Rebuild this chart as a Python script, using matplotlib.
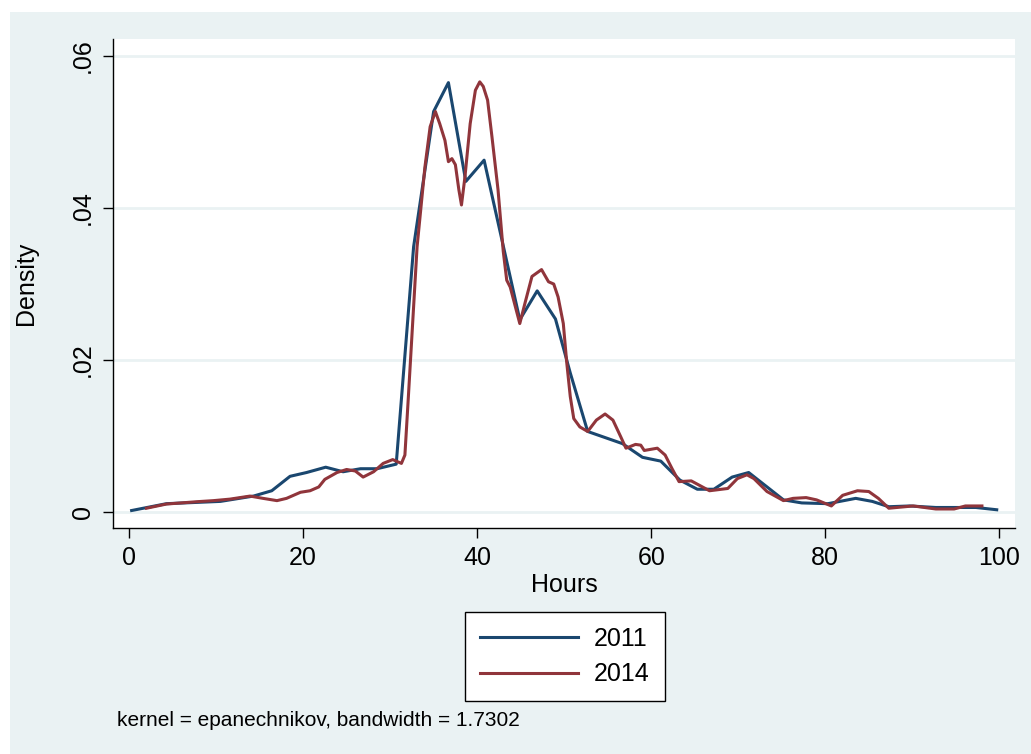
import matplotlib
matplotlib.use("Agg")
import matplotlib.pyplot as plt
from matplotlib.patches import Rectangle

# ---- data ----
hours_2011 = [0.3, 4.3, 10.5, 14.3, 16.4, 18.5, 20.4, 22.6, 24.6, 26.6, 28.5, 30.7,
              32.7, 35.0, 36.7, 38.7, 40.8, 44.9, 46.9, 49.0, 50.7, 52.7, 56.7,
              59.0, 61.1, 63.3, 65.3, 67.2, 69.3, 71.2, 75.2, 77.3, 80.3, 83.5,
              85.4, 87.3, 89.7, 92.7, 97.3, 99.7]
dens_2011 = [0.0002, 0.0011, 0.0014, 0.0021, 0.0028, 0.0047, 0.0052, 0.0059, 0.0053,
             0.0057, 0.0057, 0.0063, 0.0349, 0.0527, 0.0565, 0.0435, 0.0463, 0.0253,
             0.0291, 0.0254, 0.0183, 0.0106, 0.0090, 0.0072, 0.0067, 0.0042, 0.0030,
             0.0030, 0.0046, 0.0052, 0.0016, 0.0012, 0.0011, 0.0018, 0.0014, 0.0007,
             0.0008, 0.0006, 0.0006, 0.0003]

hours_2014 = [2.0, 4.3, 7.8, 9.7, 11.6, 13.9, 15.4, 17.0, 18.1, 19.7, 20.8, 21.8, 22.5,
              23.9, 25.0, 26.0, 26.9, 28.1, 29.2, 30.3, 31.3, 31.7, 32.1, 33.1, 34.0,
              34.6, 35.2, 35.7, 36.3, 36.7, 37.1, 37.5, 37.9, 38.2, 38.6, 39.2, 39.8,
              40.3, 40.7, 41.2, 41.7, 42.4, 43.0, 43.4, 43.8, 44.9, 45.5, 46.3, 47.4,
              48.2, 48.8, 49.3, 49.9, 50.3, 50.7, 51.1, 51.8, 52.7, 53.7, 54.7, 55.6,
              56.5, 57.1, 58.2, 58.8, 59.2, 60.7, 61.6, 62.4, 63.2, 64.6, 66.7, 68.8,
              69.9, 71.0, 71.8, 73.3, 75.2, 76.3, 77.8, 79.0, 80.7, 82.0, 83.7, 85.0,
              86.1, 87.3, 90.1, 92.7, 94.8, 96.1, 98.0]
dens_2014 = [0.0005, 0.00105, 0.00136, 0.0015, 0.0017, 0.0021, 0.0018, 0.0015, 0.0018,
             0.0026, 0.0028, 0.0033, 0.0043, 0.0052, 0.0056, 0.0054, 0.0046, 0.0053,
             0.0064, 0.0069, 0.0064, 0.0075, 0.0152, 0.0349, 0.0454, 0.0507, 0.0527,
             0.0511, 0.0489, 0.0461, 0.0465, 0.0457, 0.0424, 0.0404, 0.0441, 0.0511,
             0.0555, 0.0566, 0.0560, 0.0542, 0.0494, 0.0424, 0.0343, 0.0305, 0.0296,
             0.0248, 0.0275, 0.0310, 0.0319, 0.0303, 0.0300, 0.0283, 0.0248, 0.0196,
             0.0152, 0.0123, 0.0112, 0.0106, 0.0121, 0.0129, 0.0121, 0.0099, 0.0084,
             0.0089, 0.0088, 0.0081, 0.0084, 0.0075, 0.0057, 0.0040, 0.0041, 0.0028,
             0.0031, 0.0044, 0.0049, 0.0044, 0.0027, 0.0015, 0.0018, 0.0019, 0.0016,
             0.0008, 0.0022, 0.0028, 0.0027, 0.0018, 0.0005, 0.0008, 0.0004, 0.0004,
             0.0008, 0.0008]

x_ticks = [0, 20, 40, 60, 80, 100]
y_ticks = [0, 0.02, 0.04, 0.06]
y_tick_labels = ["0", ".02", ".04", ".06"]
series_labels = ["2011", "2014"]
x_label = "Hours"
y_label = "Density"
note_text = "kernel = epanechnikov, bandwidth = 1.7302"

# ---- style ----
plt.rcParams["font.family"] = ["Liberation Sans", "DejaVu Sans"]
BG = "#EAF2F3"
NAVY = "#1A476F"
MAROON = "#90353B"

W, H = 1031, 754
fig = plt.figure(figsize=(W / 100, H / 100), dpi=100, facecolor="white")

# outer graph region background
fig.patches.append(Rectangle((10 / W, 0), 1 - 10 / W, 1 - 12 / H,
                             transform=fig.transFigure, facecolor=BG,
                             edgecolor="none", zorder=-10))

ax = fig.add_axes([113 / W, 1 - 528 / H, (1015 - 113) / W, (528 - 39) / H])
ax.set_zorder(1)
ax.set_facecolor("white")

ax.plot(hours_2011, dens_2011, color=NAVY, lw=2.2, label=series_labels[0], zorder=3)
ax.plot(hours_2014, dens_2014, color=MAROON, lw=2.2, label=series_labels[1], zorder=3)

ax.set_xlim(-1.84, 101.8)
ax.set_ylim(-0.0021, 0.06224)

ax.set_xticks(x_ticks)
ax.set_xticklabels([str(t) for t in x_ticks])
ax.set_yticks(y_ticks)
ax.set_yticklabels(y_tick_labels, rotation=90, va="center")

for v in y_ticks:
    ax.axhline(v, color=BG, lw=2.0, zorder=1)

for s in ["top", "right"]:
    ax.spines[s].set_visible(False)
for s in ["left", "bottom"]:
    ax.spines[s].set_color("black")
    ax.spines[s].set_linewidth(1.0)

ax.tick_params(axis="both", direction="out", length=7, width=1.0,
               labelsize=18, colors="black")
ax.tick_params(axis="x", pad=6)
ax.tick_params(axis="y", pad=6)

ax.set_xlabel(x_label, fontsize=18, labelpad=2)
ax.set_ylabel(y_label, fontsize=18, labelpad=24)

leg = fig.legend(loc="upper left", bbox_to_anchor=(465 / W, 1 - 612 / H),
                 bbox_transform=fig.transFigure, fontsize=18, frameon=True,
                 fancybox=False, edgecolor="black", handlelength=3.9,
                 handletextpad=0.65, borderpad=0.6, labelspacing=0.45,
                 borderaxespad=0, framealpha=1.0)
leg.get_frame().set_linewidth(1.0)
leg.get_frame().set_facecolor("white")

fig.text(117 / W, 1 - 720 / H, note_text, fontsize=15, va="center", ha="left")

fig.savefig("out.png", dpi=100, facecolor="white")
